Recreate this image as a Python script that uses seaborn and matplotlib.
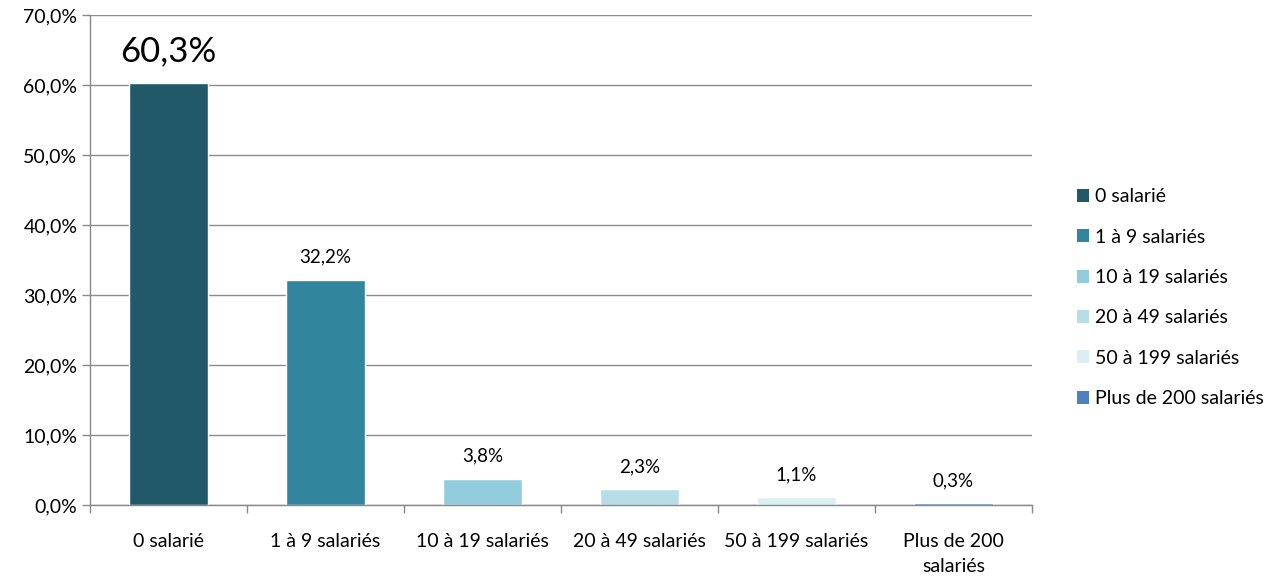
import matplotlib.pyplot as plt
import seaborn as sns
import pandas as pd
import numpy as np
from matplotlib.patches import Patch
from matplotlib.ticker import FuncFormatter, FixedLocator

sns.set_theme(style='white')
plt.rcParams['font.family'] = ['Lato', 'DejaVu Sans']
plt.rcParams['text.color'] = 'black'

# données
categories = ['0 salarié', '1 à 9 salariés', '10 à 19 salariés', '20 à 49 salariés',
              '50 à 199 salariés', 'Plus de 200 salariés']
tick_labels = ['0 salarié', '1 à 9 salariés', '10 à 19 salariés', '20 à 49 salariés',
               '50 à 199 salariés', 'Plus de 200\nsalariés']
values = [60.3, 32.2, 3.8, 2.3, 1.1, 0.3]
labels = ['60,3%', '32,2%', '3,8%', '2,3%', '1,1%', '0,3%']
colors = ['#215968', '#31859C', '#93CDDD', '#B7DEE8', '#DAEEF3', '#4F81BD']

df = pd.DataFrame({'cat': categories, 'val': values})

fig = plt.figure(figsize=(12.67, 5.78), dpi=100)
ax = fig.add_axes([0.071, 0.126, 0.7435, 0.848])

sns.barplot(data=df, x='cat', y='val', hue='cat', palette=colors, width=0.5,
            legend=False, saturation=1, ax=ax)

ax.set_ylim(0, 70)
ax.set_xlim(-0.5, 5.5)
ax.set_yticks(np.arange(0, 71, 10))
ax.yaxis.set_major_formatter(FuncFormatter(lambda v, p: f'{v:.1f}%'.replace('.', ',')))
ax.set_xticks(range(6))
ax.set_xticklabels(tick_labels, linespacing=1.55, va='top')
ax.xaxis.set_minor_locator(FixedLocator(np.arange(-0.5, 6, 1)))
ax.tick_params(axis='x', which='major', length=0, pad=20, labelsize=14, colors='black')
ax.tick_params(axis='x', which='minor', length=6, width=1, color='#888888', direction='out', bottom=True)
ax.tick_params(axis='y', length=6, width=1, color='#888888', labelsize=14, pad=3, left=True,
               labelcolor='black')
ax.set_xlabel('')
ax.set_ylabel('')

ax.grid(axis='y', color='#8c8c8c', linewidth=1)
ax.set_axisbelow(True)
for s in ['top', 'right']:
    ax.spines[s].set_visible(False)
for s in ['left', 'bottom']:
    ax.spines[s].set_color('#888888')
    ax.spines[s].set_linewidth(1)

# étiquettes de données
for i, (v, lab) in enumerate(zip(values, labels)):
    if i == 0:
        ax.text(i, v + 2.3, lab, ha='center', va='bottom', fontsize=25, color='black')
    else:
        ax.text(i, v + 2.0, lab, ha='center', va='bottom', fontsize=13.5, color='black')

handles = [Patch(facecolor=c, edgecolor='none') for c in colors]
fig.legend(handles, categories, loc='center left', bbox_to_anchor=(0.836, 0.485),
           frameon=False, fontsize=14, handlelength=0.65, handleheight=0.65,
           handletextpad=0.3, labelspacing=1.2, labelcolor='black')

fig.savefig('out.png', dpi=100)
